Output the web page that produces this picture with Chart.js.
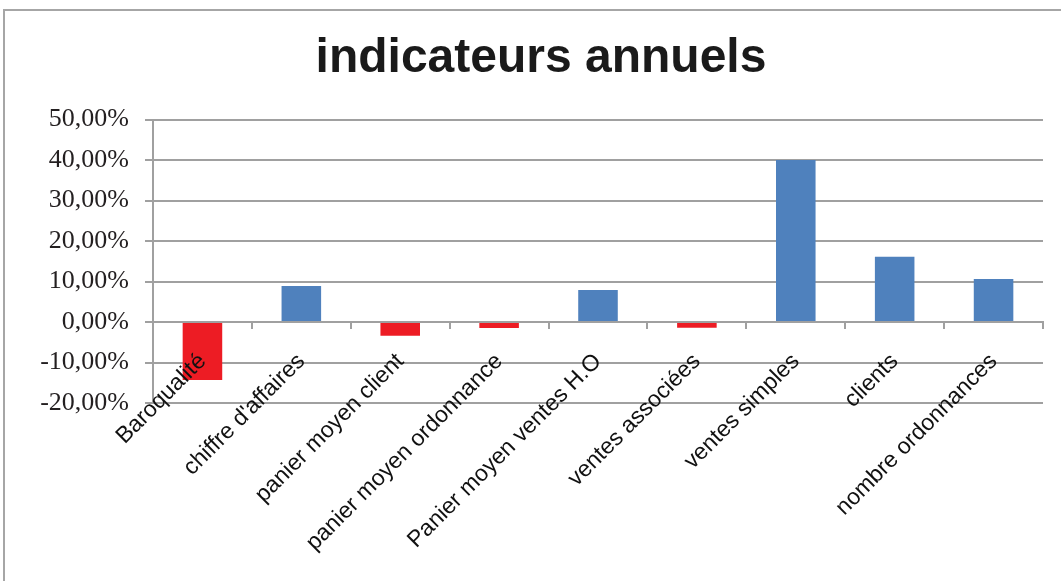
<!DOCTYPE html>
<html>
<head>
<meta charset="utf-8">
<script src="https://cdn.jsdelivr.net/npm/chart.js@4"></script>
<style>
  html, body { margin: 0; padding: 0; background: #fff; overflow: hidden; }
  #frame {
    position: absolute; left: 3px; top: 9px; width: 2000px; height: 2000px;
    border: 2px solid #a6a6a6;
  }
  #wrap { position: absolute; left: 0; top: 0; width: 1061px; height: 581px; }
</style>
</head>
<body>
<div id="frame"></div>
<div id="wrap"><canvas id="chart"></canvas></div>
<script>
const categories = [
  'Baroqualité',
  "chiffre d'affaires",
  'panier moyen client',
  'panier moyen ordonnance',
  'Panier moyen ventes H.O',
  'ventes associées',
  'ventes simples',
  'clients',
  'nombre ordonnances'
];
// variation in %
const values = [-14.3, 8.9, -3.4, -1.5, 7.9, -1.4, 40.0, 16.1, 10.6];
const yTicks = [-20, -10, 0, 10, 20, 30, 40, 50];

const BLUE = '#4f81bd';
const RED = '#ed1c24';

function fmtPct(v) {
  return v.toFixed(2).replace('.', ',') + '%';
}

const ctx = document.getElementById('chart').getContext('2d');
new Chart(ctx, {
  type: 'bar',
  data: {
    labels: categories,
    datasets: [{
      data: values,
      backgroundColor: values.map(v => (v < 0 ? RED : BLUE)),
      borderWidth: 0,
      categoryPercentage: 1,
      barPercentage: 0.4
    }]
  },
  options: {
    responsive: true,
    maintainAspectRatio: false,
    animation: false,
    layout: { padding: { left: 39, right: 18, top: 0, bottom: 178 } },
    plugins: {
      legend: { display: false },
      tooltip: { enabled: false },
      title: {
        display: true,
        text: 'indicateurs annuels',
        color: '#1a1a1a',
        font: { family: 'Liberation Sans, Arial, sans-serif', size: 48, weight: 'bold' },
        padding: { top: 30, bottom: 32 }
      }
    },
    scales: {
      x: {
        position: { y: 0 },
        afterFit: s => { s.paddingLeft = 0; s.paddingRight = 0; },
        grid: {
          display: true,
          drawOnChartArea: false,
          drawTicks: true,
          tickLength: 6,
          color: '#a0a0a0',
          lineWidth: 2
        },
        border: { display: true, color: '#a0a0a0', width: 2 },
        ticks: {
          z: 1,
          color: '#111',
          font: { family: 'Liberation Sans, Arial, sans-serif', size: 23 },
          minRotation: 45,
          maxRotation: 45,
          padding: 20,
          autoSkip: false
        }
      },
      y: {
        min: -20,
        max: 50,
        afterBuildTicks: axis => { axis.ticks = yTicks.map(v => ({ value: v })); },
        afterFit: axis => { axis.width = 114; },
        grid: {
          color: '#a0a0a0',
          lineWidth: 2,
          tickLength: 8
        },
        border: { display: true, color: '#a0a0a0', width: 2 },
        ticks: {
          color: '#231f20',
          font: { family: 'Liberation Serif, Times New Roman, serif', size: 26 },
          padding: 16,
          callback: v => fmtPct(v)
        }
      }
    }
  }
});
</script>
</body>
</html>
